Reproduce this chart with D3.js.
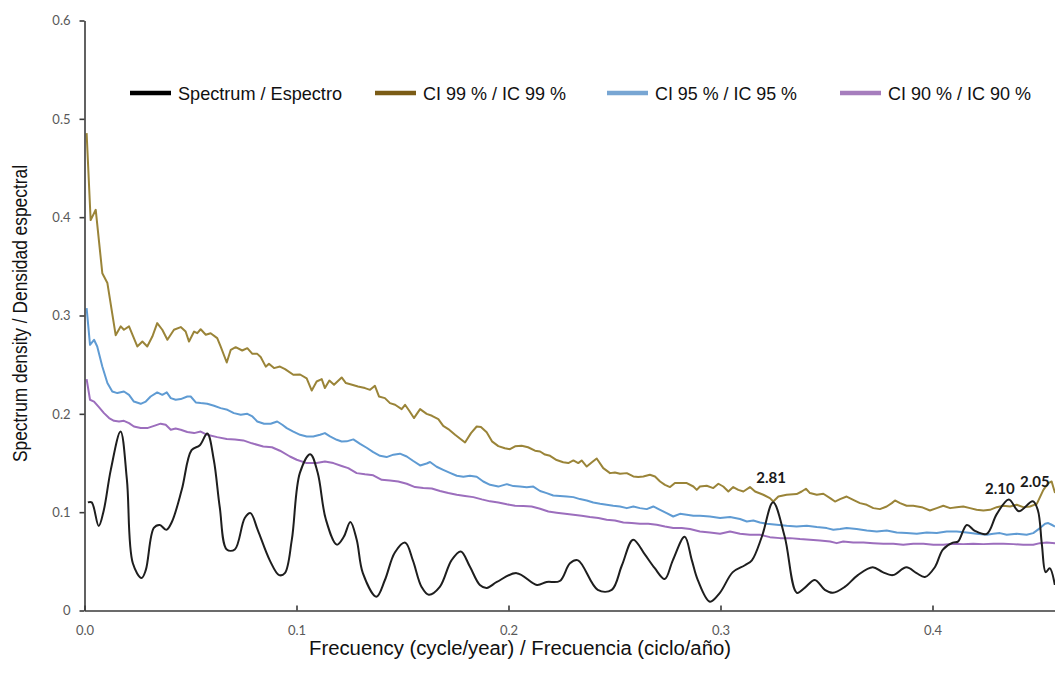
<!DOCTYPE html>
<html>
<head>
<meta charset="utf-8">
<script src="https://cdn.jsdelivr.net/npm/d3@7"></script>
<style>
  body { margin: 0; background: #fff; }
  svg { display: block; }
</style>
</head>
<body>
<script>
// spectrum: [frequency, density]
const spectrum = [
  [0.0016,0.110],[0.0034,0.110],[0.0067,0.086],[0.0091,0.102],[0.0124,0.143],[0.0170,0.182],[0.0200,0.133],[0.0228,0.048],[0.0269,0.033],[0.0289,0.041],
  [0.0327,0.084],[0.0355,0.087],[0.0386,0.082],[0.0412,0.090],[0.0459,0.123],[0.0505,0.163],[0.0544,0.168],[0.0579,0.180],[0.0610,0.153],[0.0638,0.105],
  [0.0671,0.062],[0.0709,0.062],[0.0756,0.094],[0.0783,0.099],[0.0817,0.082],[0.0874,0.051],[0.0918,0.036],[0.0945,0.038],[0.0978,0.072],[0.1016,0.140],
  [0.1065,0.159],[0.1100,0.140],[0.1138,0.093],[0.1190,0.067],[0.1223,0.075],[0.1254,0.090],[0.1284,0.072],[0.1313,0.038],[0.1377,0.014],[0.1417,0.031],
  [0.1464,0.059],[0.1513,0.069],[0.1549,0.051],[0.1590,0.024],[0.1624,0.016],[0.1676,0.024],[0.1731,0.051],[0.1775,0.060],[0.1817,0.045],[0.1865,0.026],
  [0.1898,0.023],[0.1945,0.029],[0.2038,0.038],[0.2134,0.026],[0.2180,0.029],[0.2242,0.030],[0.2290,0.048],[0.2328,0.051],[0.2421,0.021],[0.2487,0.021],
  [0.2535,0.046],[0.2588,0.072],[0.2643,0.057],[0.2690,0.043],[0.2737,0.032],[0.2775,0.051],[0.2831,0.075],[0.2865,0.051],[0.2893,0.031],[0.2950,0.009],
  [0.2997,0.018],[0.3058,0.039],[0.3115,0.046],[0.3148,0.051],[0.3195,0.075],[0.3248,0.110],[0.3303,0.075],[0.3360,0.018],[0.3397,0.023],[0.3445,0.031],
  [0.3492,0.021],[0.3530,0.018],[0.3586,0.024],[0.3648,0.036],[0.3718,0.044],[0.3765,0.039],[0.3813,0.036],[0.3877,0.044],[0.3925,0.038],[0.3964,0.034],
  [0.4011,0.044],[0.4049,0.062],[0.4096,0.069],[0.4120,0.070],[0.4162,0.087],[0.4200,0.081],[0.4256,0.078],[0.4303,0.098],[0.4360,0.113],[0.4407,0.101],
  [0.4473,0.111],[0.4497,0.102],[0.4516,0.067],[0.4534,0.039],[0.4553,0.043],[0.4577,0.026]
];

// confidence limits 99 %
const ci99 = [
  [0.0010,0.4855],[0.0029,0.397],[0.0053,0.4075],[0.0084,0.343],[0.0108,0.333],[0.0147,0.280],[0.0171,0.289],[0.0186,0.2855],[0.0210,0.289],[0.0249,0.2685],
  [0.0273,0.2735],[0.0296,0.2685],[0.0320,0.2786],[0.0343,0.2923],[0.0367,0.2855],[0.0391,0.2753],[0.0422,0.2855],[0.0454,0.2882],[0.0477,0.2837],[0.0493,0.2735],
  [0.0517,0.2837],[0.0532,0.282],[0.0548,0.286],[0.0572,0.2804],[0.0595,0.282],[0.0626,0.277],[0.0642,0.2685],[0.0671,0.2522],[0.0690,0.2651],[0.0713,0.2678],
  [0.0744,0.2644],[0.0768,0.2668],[0.0792,0.261],[0.0815,0.261],[0.0831,0.2577],[0.0855,0.248],[0.0870,0.2509],[0.0894,0.2465],[0.0922,0.2481],[0.0946,0.2455],
  [0.0985,0.2397],[0.1017,0.240],[0.1048,0.236],[0.1072,0.2237],[0.1095,0.2329],[0.1119,0.2353],[0.1134,0.2262],[0.1155,0.2339],[0.1177,0.2295],[0.1213,0.2370],
  [0.1233,0.2313],[0.1262,0.2295],[0.1290,0.2278],[0.1323,0.2262],[0.1347,0.2244],[0.1370,0.2285],[0.1389,0.2177],[0.1417,0.216],[0.1441,0.2109],[0.1465,0.2092],
  [0.1496,0.2048],[0.1512,0.2092],[0.1531,0.2034],[0.1554,0.1957],[0.1583,0.2048],[0.1614,0.200],[0.1639,0.198],[0.1669,0.1946],[0.1692,0.1878],[0.1716,0.1845],
  [0.1748,0.1787],[0.1795,0.1709],[0.1823,0.1804],[0.1850,0.1871],[0.1870,0.1865],[0.1897,0.1812],[0.1922,0.1720],[0.1952,0.1672],[0.1983,0.165],[0.2007,0.164],
  [0.2031,0.1670],[0.2062,0.1676],[0.2092,0.166],[0.2125,0.1625],[0.2149,0.1617],[0.2172,0.1586],[0.2196,0.1573],[0.2227,0.153],[0.2258,0.1507],[0.2282,0.1499],
  [0.2306,0.1526],[0.2329,0.1499],[0.2345,0.1526],[0.2369,0.1464],[0.2392,0.1505],[0.2416,0.1546],[0.2447,0.1448],[0.2479,0.1397],[0.2502,0.1404],[0.2526,0.139],
  [0.2558,0.1397],[0.2589,0.1363],[0.2612,0.1357],[0.2636,0.1363],[0.2667,0.138],[0.2691,0.1363],[0.2715,0.1312],[0.2738,0.1278],[0.2762,0.1255],[0.2785,0.1296],
  [0.2809,0.1296],[0.2841,0.1296],[0.2872,0.1261],[0.2888,0.1227],[0.2903,0.1261],[0.2935,0.1268],[0.2966,0.1245],[0.2990,0.1289],[0.3013,0.1261],[0.3037,0.121],
  [0.3060,0.1255],[0.3084,0.1227],[0.3108,0.121],[0.3139,0.1255],[0.3163,0.121],[0.3202,0.1177],[0.3233,0.1143],[0.3249,0.1108],[0.3273,0.1159],[0.3312,0.1177],
  [0.3359,0.1184],[0.3383,0.121],[0.3403,0.1238],[0.3422,0.1194],[0.3454,0.1177],[0.3485,0.1187],[0.3517,0.1143],[0.3540,0.1108],[0.3564,0.1133],[0.3595,0.1159],
  [0.3626,0.1126],[0.3658,0.1092],[0.3690,0.1075],[0.3721,0.1041],[0.3752,0.1031],[0.3784,0.1058],[0.3808,0.1092],[0.3823,0.1119],[0.3847,0.1092],[0.3878,0.1065],
  [0.3909,0.1065],[0.3949,0.1051],[0.3988,0.1017],[0.4020,0.1041],[0.4051,0.1065],[0.4083,0.1041],[0.4114,0.1051],[0.4145,0.1058],[0.4177,0.1041],[0.4208,0.1024],
  [0.4240,0.1017],[0.4271,0.1024],[0.4303,0.1051],[0.4334,0.1065],[0.4366,0.1058],[0.4397,0.1075],[0.4428,0.1051],[0.4460,0.1058],[0.4492,0.1085],[0.4523,0.1227],
  [0.4546,0.1296],[0.4562,0.1312],[0.4578,0.1194]
];

// confidence limits 95 %
const ci95 = [
  [0.0010,0.3075],[0.0026,0.2702],[0.0045,0.2753],[0.0060,0.2685],[0.0084,0.2481],[0.0108,0.2313],[0.0131,0.2227],[0.0155,0.2211],[0.0186,0.2227],[0.0210,0.2193],
  [0.0233,0.2125],[0.0265,0.2102],[0.0289,0.2125],[0.0312,0.2176],[0.0343,0.2218],[0.0367,0.2193],[0.0388,0.2218],[0.0407,0.216],[0.0430,0.2143],[0.0454,0.215],
  [0.0485,0.2176],[0.0501,0.2176],[0.0525,0.2116],[0.0548,0.2109],[0.0579,0.2102],[0.0611,0.2082],[0.0642,0.2058],[0.0674,0.2041],[0.0705,0.2007],[0.0737,0.199],
  [0.0768,0.200],[0.0792,0.1973],[0.0815,0.1922],[0.0847,0.1899],[0.0878,0.1899],[0.0909,0.1922],[0.0933,0.1889],[0.0954,0.1855],[0.0985,0.182],[0.1017,0.1787],
  [0.1048,0.177],[0.1079,0.177],[0.1111,0.1787],[0.1134,0.1804],[0.1158,0.177],[0.1190,0.1736],[0.1213,0.1719],[0.1237,0.172],[0.1268,0.174],[0.1300,0.1695],
  [0.1331,0.1655],[0.1362,0.161],[0.1394,0.1573],[0.1425,0.156],[0.1457,0.1585],[0.1488,0.1595],[0.1520,0.1566],[0.1551,0.152],[0.1583,0.1475],[0.1614,0.1495],
  [0.1630,0.151],[0.1661,0.1462],[0.1692,0.1431],[0.1724,0.140],[0.1756,0.137],[0.1787,0.136],[0.1818,0.137],[0.1850,0.136],[0.1881,0.1312],[0.1913,0.1278],
  [0.1952,0.126],[0.1992,0.1285],[0.2023,0.1265],[0.2054,0.1262],[0.2086,0.1253],[0.2117,0.126],[0.2149,0.1215],[0.2180,0.1194],[0.2211,0.117],[0.2243,0.1165],
  [0.2275,0.1159],[0.2306,0.1153],[0.2337,0.1133],[0.2369,0.1119],[0.2400,0.1098],[0.2432,0.1085],[0.2463,0.1075],[0.2494,0.1065],[0.2526,0.1058],[0.2558,0.1041],
  [0.2589,0.1058],[0.2620,0.1041],[0.2652,0.1031],[0.2683,0.1058],[0.2715,0.1024],[0.2746,0.099],[0.2777,0.0956],[0.2809,0.0983],[0.2841,0.0973],[0.2872,0.0963],
  [0.2903,0.0963],[0.2950,0.0956],[0.2998,0.094],[0.3045,0.095],[0.3092,0.093],[0.3124,0.0905],[0.3155,0.0915],[0.3186,0.0895],[0.3218,0.0882],[0.3265,0.0872],
  [0.3312,0.0861],[0.3359,0.0854],[0.3407,0.0861],[0.3454,0.0848],[0.3501,0.0838],[0.3532,0.0821],[0.3564,0.0828],[0.3595,0.0838],[0.3642,0.0828],[0.3690,0.0814],
  [0.3737,0.0803],[0.3784,0.0814],[0.3831,0.0793],[0.3878,0.0787],[0.3926,0.078],[0.3973,0.0793],[0.4020,0.0787],[0.4067,0.0803],[0.4114,0.0803],[0.4161,0.0793],
  [0.4208,0.078],[0.4256,0.077],[0.4287,0.078],[0.4318,0.0787],[0.4350,0.077],[0.4397,0.078],[0.4444,0.077],[0.4475,0.0787],[0.4507,0.0838],[0.4531,0.0882],
  [0.4546,0.0889],[0.4562,0.0872],[0.4578,0.0854]
];

// confidence limits 90 %
const ci90 = [
  [0.0010,0.2353],[0.0026,0.2143],[0.0045,0.2125],[0.0068,0.2069],[0.0092,0.2007],[0.0116,0.1957],[0.0139,0.1929],[0.0163,0.1922],[0.0186,0.1929],[0.0210,0.1906],
  [0.0233,0.1871],[0.0265,0.1855],[0.0296,0.1855],[0.0328,0.1878],[0.0359,0.190],[0.0383,0.1889],[0.0407,0.1838],[0.0430,0.185],[0.0454,0.1838],[0.0485,0.1815],
  [0.0517,0.1804],[0.0548,0.182],[0.0579,0.1787],[0.0626,0.1763],[0.0671,0.1745],[0.0710,0.174],[0.0749,0.173],[0.0790,0.170],[0.0843,0.1668],[0.0884,0.166],
  [0.0922,0.1625],[0.0969,0.1566],[0.1001,0.1533],[0.1048,0.1499],[0.1095,0.1499],[0.1134,0.1515],[0.1174,0.1499],[0.1213,0.147],[0.1244,0.1448],[0.1284,0.1397],
  [0.1323,0.1385],[0.1362,0.1375],[0.1402,0.1329],[0.1441,0.1322],[0.1480,0.1312],[0.1520,0.1289],[0.1559,0.1255],[0.1598,0.1245],[0.1638,0.124],[0.1677,0.1215],
  [0.1716,0.1194],[0.1756,0.1177],[0.1795,0.1165],[0.1834,0.1153],[0.1874,0.113],[0.1913,0.111],[0.1952,0.1098],[0.1992,0.108],[0.2031,0.1065],[0.2070,0.1062],
  [0.2109,0.1058],[0.2149,0.1035],[0.2188,0.1007],[0.2227,0.0995],[0.2267,0.0983],[0.2306,0.0973],[0.2345,0.0963],[0.2384,0.095],[0.2424,0.094],[0.2463,0.0922],
  [0.2502,0.0915],[0.2542,0.0895],[0.2581,0.0889],[0.2620,0.0882],[0.2659,0.0882],[0.2699,0.0872],[0.2738,0.0854],[0.2777,0.0838],[0.2817,0.0838],[0.2856,0.0828],
  [0.2903,0.0803],[0.2950,0.0793],[0.2998,0.078],[0.3045,0.0803],[0.3092,0.078],[0.3139,0.077],[0.3186,0.077],[0.3233,0.0746],[0.3281,0.0736],[0.3328,0.0736],
  [0.3375,0.0726],[0.3422,0.0719],[0.3469,0.0712],[0.3517,0.0702],[0.3548,0.0685],[0.3579,0.0702],[0.3626,0.0692],[0.3674,0.0692],[0.3721,0.0685],[0.3768,0.0678],
  [0.3815,0.0678],[0.3862,0.0668],[0.3909,0.0678],[0.3957,0.0678],[0.4004,0.0668],[0.4051,0.0668],[0.4098,0.0678],[0.4145,0.0675],[0.4192,0.0678],[0.4240,0.0675],
  [0.4287,0.0678],[0.4334,0.0678],[0.4381,0.0675],[0.4428,0.0668],[0.4475,0.0668],[0.4507,0.0685],[0.4539,0.0692],[0.4578,0.0685]
];

// labelled peaks (period, years)
const peakLabels = ["2.81", "2.10", "2.05"];
const peakFreq = [0.3248, 0.4360, 0.4473];
const peakValue = [0.110, 0.113, 0.111];

const legendLabels = ["Spectrum / Espectro", "CI 99 % / IC 99 %", "CI 95 % / IC 95 %", "CI 90 % / IC 90 %"];
const yTicks = [0, 0.1, 0.2, 0.3, 0.4, 0.5, 0.6];
const xTicks = [0, 0.1, 0.2, 0.3, 0.4];
const xTitle = "Frecuency (cycle/year) / Frecuencia (ciclo/año)";
const yTitle = "Spectrum density / Densidad espectral";

const width = 1055;
const height = 687;
const marginLeft = 84.5;
const marginTop = 20.5;
const plotBottom = 610.5;

// no condensed font installed: squeeze Liberation Sans with textLength
const narrow = "'Liberation Sans', Arial, sans-serif";
const tickFont = "Lato, 'Open Sans', sans-serif";

const svg = d3.select("body")
  .append("svg")
  .attr("xmlns", "http://www.w3.org/2000/svg")
  .attr("width", width)
  .attr("height", height);

svg.append("rect")
  .attr("width", "100%")
  .attr("height", "100%")
  .attr("fill", "white");

const x = d3.scaleLinear()
  .domain([0, 0.5])
  .range([marginLeft, marginLeft + 1060]);

const y = d3.scaleLinear()
  .domain([0, 0.6])
  .range([plotBottom, marginTop]);

// series: line colour, legend colour
const series = [
  { name: legendLabels[0], data: spectrum, color: "#1e1e1e", key: "#000000", curve: d3.curveCatmullRom.alpha(0.5), width: 2 },
  { name: legendLabels[1], data: ci99, color: "#9a8438", key: "#7b5c16", curve: d3.curveLinear, width: 2 },
  { name: legendLabels[2], data: ci95, color: "#5f9bd3", key: "#78a6d3", curve: d3.curveLinear, width: 2 },
  { name: legendLabels[3], data: ci90, color: "#9c6ebd", key: "#a67dbd", curve: d3.curveLinear, width: 2 }
];

// draw CI lines first, spectrum on top
svg.append("g")
  .selectAll("path")
  .data(series.slice(1).concat(series.slice(0, 1)))
  .join("path")
  .attr("fill", "none")
  .attr("stroke", d => d.color)
  .attr("stroke-width", d => d.width)
  .attr("stroke-linejoin", "round")
  .attr("d", d => d3.line()
    .x(p => x(p[0]))
    .y(p => y(p[1]))
    .curve(d.curve)(d.data));

// Y axis
const yAxis = svg.append("g")
  .attr("transform", "translate(" + marginLeft + ",0)")
  .call(d3.axisLeft(y)
    .tickValues(yTicks)
    .tickSizeInner(5)
    .tickSizeOuter(0)
    .tickPadding(9)
    .tickFormat(d => d === 0 ? "0" : d3.format(".1f")(d)));

// X axis, ticks pointing up
const xAxis = svg.append("g")
  .attr("transform", "translate(0," + plotBottom + ")")
  .call(d3.axisBottom(x)
    .tickValues(xTicks)
    .tickSizeInner(-5)
    .tickSizeOuter(0)
    .tickPadding(15)
    .tickFormat(d3.format(".1f")));

[yAxis, xAxis].forEach(g => {
  g.select(".domain").attr("stroke", "#3a3a3a").attr("stroke-width", 1.6);
  g.selectAll(".tick line").attr("stroke", "#3a3a3a").attr("stroke-width", 1.6);
  g.selectAll(".tick text")
    .attr("fill", "#595959")
    .style("font-family", tickFont)
    .style("font-size", "13px");
});

// axis titles
svg.append("text")
  .attr("text-anchor", "middle")
  .attr("transform", "rotate(-90)")
  .attr("x", -313.5)
  .attr("y", 27)
  .attr("textLength", 297)
  .attr("lengthAdjust", "spacingAndGlyphs")
  .style("font-family", narrow)
  .style("font-size", "20px")
  .attr("fill", "#111")
  .text(yTitle);

svg.append("text")
  .attr("text-anchor", "middle")
  .attr("x", 520)
  .attr("y", 655)
  .attr("textLength", 422)
  .attr("lengthAdjust", "spacingAndGlyphs")
  .style("font-family", narrow)
  .style("font-size", "20px")
  .attr("fill", "#111")
  .text(xTitle);

// peak labels
const peakOffset = [[-2, -19], [-9, -5], [2, -14]];
svg.append("g")
  .selectAll("text")
  .data(peakLabels)
  .join("text")
  .attr("text-anchor", "middle")
  .attr("x", (d, i) => x(peakFreq[i]) + peakOffset[i][0])
  .attr("y", (d, i) => y(peakValue[i]) + peakOffset[i][1])
  .style("font-family", tickFont)
  .style("font-weight", "bold")
  .style("font-size", "15px")
  .attr("fill", "#1a1a1a")
  .text(d => d);

// legend
const legendX = [130, 375, 607, 840];
const legendTextWidth = [164, 143, 142, 143];
const legend = svg.append("g")
  .selectAll("g")
  .data(series)
  .join("g")
  .attr("transform", (d, i) => "translate(" + legendX[i] + ",93)");

legend.append("line")
  .attr("x1", 0)
  .attr("x2", 41)
  .attr("stroke", d => d.key)
  .attr("stroke-width", 4.5);

legend.append("text")
  .attr("x", 48)
  .attr("dy", "0.35em")
  .attr("textLength", (d, i) => legendTextWidth[i])
  .attr("lengthAdjust", "spacingAndGlyphs")
  .style("font-family", narrow)
  .style("font-size", "19px")
  .attr("fill", "#111")
  .text(d => d.name);
</script>
</body>
</html>
